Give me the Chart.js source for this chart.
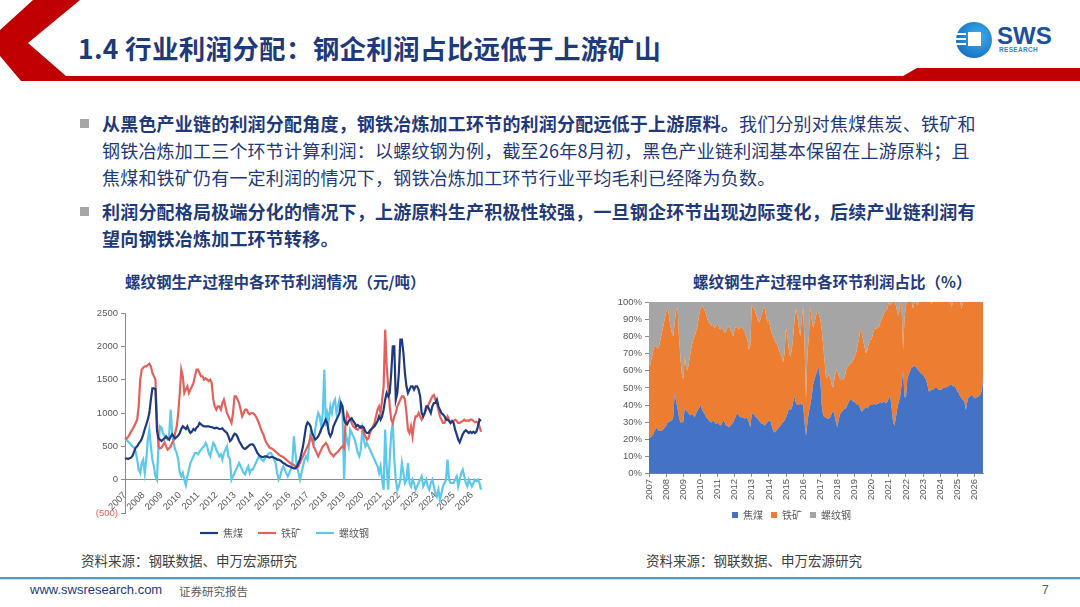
<!DOCTYPE html>
<html lang="zh-CN">
<head>
<meta charset="UTF-8">
<title>1.4 行业利润分配</title>
<script src="https://cdn.jsdelivr.net/npm/chart.js"></script>
<style>
  body { margin: 0; width: 1080px; height: 607px; overflow: hidden; background: #fff; position: relative;
         font-family: "Noto Sans CJK SC", "Noto Sans", sans-serif; }
  .abs { position: absolute; }
  .title { left: 78px; top: 28px; font-size: 26.5px; font-weight: 700; color: #1F3A7A; white-space: nowrap; letter-spacing: 0.3px; }
  .para { left: 80px; font-size: 18px; line-height: 27px; color: #1F3A7A; white-space: nowrap; letter-spacing: 0.2px; }
  .para .txt { margin-left: 22px; }
  .sq { position: absolute; left: 0; top: 9px; width: 9px; height: 9px; background: #A6A6A6; }
  .ctitle { font-size: 15.5px; font-weight: 700; color: #1F3B80; white-space: nowrap; }
  .src { font-size: 13.5px; color: #404040; white-space: nowrap; }
</style>
</head>
<body>
<svg class="abs" style="left:0;top:0" width="1080" height="90">
  <polygon points="33,0 80,0 28,43 66,76 1080,76 1080,81 21,81 0,56 0,30" fill="#C00000"/>
  <polygon points="903,76 917,68 1080,68 1080,76" fill="#C00000"/>
</svg>
<div class="abs title">1.4 行业利润分配：钢企利润占比远低于上游矿山</div>

<!-- logo -->
<div class="abs" style="left:956px;top:22px;width:36px;height:36px;border-radius:50%;background:radial-gradient(circle at 62% 40%, #3cb0ee, #0c5bb2);"></div>
<div class="abs" style="left:968px;top:32px;width:13px;height:14px;background:#fff;"></div>
<div class="abs" style="left:956px;top:33px;width:10px;height:2px;background:#fff;"></div>
<div class="abs" style="left:955px;top:38px;width:11px;height:2px;background:#fff;"></div>
<div class="abs" style="left:956px;top:43px;width:10px;height:2px;background:#fff;"></div>
<div class="abs" style="left:997px;top:22px;font:700 24px 'Liberation Sans',Arial,sans-serif;color:#1C4F9C;">SWS</div>
<div class="abs" style="left:999px;top:46px;font:700 6.5px 'Liberation Sans',Arial,sans-serif;color:#2F86D0;letter-spacing:0.3px;">RESEARCH</div>

<div class="abs para" style="top:110px;">
  <span class="sq"></span>
  <div class="txt"><b>从黑色产业链的利润分配角度，钢铁冶炼加工环节的利润分配远低于上游原料。</b>我们分别对焦煤焦炭、铁矿和<br>钢铁冶炼加工三个环节计算利润：以螺纹钢为例，截至26年8月初，黑色产业链利润基本保留在上游原料；且<br>焦煤和铁矿仍有一定利润的情况下，钢铁冶炼加工环节行业平均毛利已经降为负数。</div>
</div>
<div class="abs para" style="top:198px;">
  <span class="sq"></span>
  <div class="txt"><b>利润分配格局极端分化的情况下，上游原料生产积极性较强，一旦钢企环节出现边际变化，后续产业链利润有<br>望向钢铁冶炼加工环节转移。</b></div>
</div>

<div class="abs ctitle" style="left:125px;top:270px;">螺纹钢生产过程中各环节利润情况（元/吨）</div>
<div class="abs ctitle" style="left:693px;top:270px;">螺纹钢生产过程中各环节利润占比（%）</div>

<canvas id="c1" class="abs" style="left:88px;top:300px;" width="412" height="248"></canvas>
<canvas id="c2" class="abs" style="left:600px;top:290px;" width="395" height="240"></canvas>

<div class="abs src" style="left:81px;top:550px;">资料来源：钢联数据、申万宏源研究</div>
<div class="abs src" style="left:646px;top:550px;">资料来源：钢联数据、申万宏源研究</div>

<div class="abs" style="left:0;top:577px;width:1080px;height:2px;background:#4A9CC6;"></div>
<div class="abs" style="left:0;top:579px;width:1080px;height:1px;background:#D8D8D8;"></div>
<div class="abs" style="left:30px;top:582px;font:13px 'Liberation Sans',Arial,sans-serif;color:#1F3A7A;">www.swsresearch.com</div>
<div class="abs" style="left:179px;top:583px;font-size:11.5px;color:#595959;">证券研究报告</div>
<div class="abs" style="left:1042px;top:583px;font:12px 'Liberation Sans',Arial,sans-serif;color:#595959;">7</div>

<script>
// years on the axis; data is monthly, Jan 2007 to Jul 2026
const years = ['2007','2008','2009','2010','2011','2012','2013','2014','2015','2016',
               '2017','2018','2019','2020','2021','2022','2023','2024','2025','2026'];

// 焦煤 profit, yuan/ton
const jmProfit = [
  310,320,310,320,330,360,420,480,500,540,570,610,
  680,760,830,900,1000,1200,1370,1370,1360,750,620,600,
  580,600,620,650,620,600,640,680,650,620,640,660,
  700,760,800,780,760,800,740,700,720,760,740,780,
  800,850,830,810,800,800,800,800,790,790,780,770,
  780,770,760,760,770,740,720,700,650,580,600,650,
  690,680,640,580,540,500,470,460,480,500,520,530,
  530,500,450,400,370,350,340,340,350,350,340,330,
  340,340,330,320,300,300,290,270,250,240,220,210,
  200,190,180,170,170,200,250,300,400,500,650,800,
  860,840,800,700,650,600,620,650,700,760,800,850,
  900,850,700,650,700,800,850,900,950,1000,1150,1100,
  900,850,830,880,900,920,880,850,800,820,800,780,
  800,780,720,700,700,740,760,780,800,840,880,950,
  900,950,1050,1200,1300,1250,1300,1600,2000,2000,1200,1300,
  1600,2100,2100,1900,1600,1400,1300,1350,1400,1400,1350,1400,
  1400,1350,1250,1000,950,1000,1100,1100,1050,1000,1100,1150,
  1150,1200,1100,1050,1000,980,950,900,900,880,850,880,
  850,750,680,600,560,620,680,720,740,720,700,720,
  700,720,700,720,800,900,880
];

// 铁矿 profit, yuan/ton
const tkProfit = [
  600,620,640,680,720,760,800,850,900,1100,1500,1650,
  1680,1700,1700,1720,1740,1700,1600,1550,1500,900,500,470,
  480,520,560,500,450,470,500,550,600,700,800,1000,
  1300,1650,1550,1300,1350,1400,1300,1350,1400,1450,1550,1650,
  1650,1600,1550,1550,1500,1520,1500,1480,1500,1450,1200,1100,
  1050,1100,1100,1050,1150,1200,1100,1000,950,900,850,1000,
  1250,1250,1200,1150,1050,950,1000,1050,1050,1000,980,1000,
  1000,980,950,900,850,780,720,680,600,550,520,480,
  470,460,440,420,400,380,360,350,340,320,300,280,
  260,240,230,220,200,180,200,250,300,350,400,450,
  500,550,650,600,500,450,400,350,400,450,500,520,
  550,520,450,400,380,350,380,400,420,450,480,500,
  470,850,1000,950,900,850,800,780,760,750,780,800,
  780,700,650,600,620,700,750,800,850,950,1050,1100,
  1000,1200,1400,2250,1700,1400,1100,900,850,950,1000,1100,
  1150,1200,1250,1250,1200,1000,750,700,800,650,850,950,
  950,1000,950,900,950,1000,1050,1100,1150,1200,1250,1270,
  1200,1150,1050,950,900,850,850,900,950,900,850,870,
  880,900,880,850,850,870,880,900,880,890,880,900,
  900,880,860,870,850,800,720
];

// 螺纹钢 profit, yuan/ton
const lwgProfit = [
  600,600,570,550,520,500,480,420,300,150,100,250,
  300,100,300,600,750,500,300,200,50,0,500,800,
  780,700,650,620,600,650,1050,700,550,450,400,300,
  100,50,100,0,-80,50,150,250,300,350,400,400,
  380,420,450,480,500,550,500,400,350,450,550,520,
  450,400,350,380,300,400,450,500,350,300,0,50,
  100,150,200,250,200,150,100,80,150,200,100,150,
  150,200,250,300,350,320,300,280,320,350,380,400,
  400,350,300,250,100,0,50,150,200,150,100,50,
  100,150,250,650,400,200,100,0,100,200,300,350,
  300,500,700,600,550,750,900,1000,950,800,1000,1650,
  800,1000,900,1100,1000,1150,1200,1000,1100,1200,1050,1000,
  0,700,600,500,750,700,650,600,500,400,350,450,
  750,600,500,550,500,450,400,350,300,250,200,100,
  200,0,-150,750,200,-150,300,700,850,300,0,-150,
  -100,0,250,100,-50,0,250,-50,-100,0,-50,-150,
  -100,-50,0,50,-100,-50,0,-100,-150,-50,0,-100,
  -200,-250,-150,-300,-200,-100,-50,0,300,0,-50,-50,
  -50,0,50,-100,0,100,150,50,-50,-100,0,-50,
  -100,-50,0,-20,0,-50,-150
];

// shares of total profit, %
const shareJm = [
  21,21,22,23,25,27,26,25,25,25,26,27,
  28,30,30,31,31,33,47,42,38,33,30,30,
  30,38,37,36,35,34,35,34,33,35,37,38,
  40,38,36,35,33,32,31,30,30,31,30,29,
  30,29,28,29,31,30,28,28,27,28,29,30,
  32,34,35,34,33,33,33,32,33,32,30,27,
  35,35,34,33,32,31,30,29,29,28,29,30,
  31,31,28,25,24,25,26,27,28,29,30,31,
  33,35,38,37,38,42,45,41,40,40,41,40,
  40,30,22,30,36,40,45,52,55,58,60,62,
  55,40,34,33,33,32,32,33,35,37,34,30,
  27,32,35,36,37,38,38,40,42,43,43,42,
  42,41,40,40,38,36,37,38,39,38,39,40,
  40,40,41,40,41,41,42,41,42,42,41,42,
  44,45,38,30,28,33,38,42,45,52,60,45,
  44,55,58,60,62,62,63,62,61,60,59,58,
  58,56,55,52,48,48,49,49,50,50,50,49,
  49,49,50,50,50,51,51,52,52,51,51,50,
  48,47,45,44,43,42,37,42,45,45,46,45,
  44,44,45,45,46,48,54
];

const shareTk = [
  39,43,46,49,50,47,47,49,53,57,60,63,
  66,67,62,55,51,47,41,53,59,47,38,28,
  25,30,25,24,30,36,40,44,47,48,49,54,
  56,60,61,60,60,58,57,57,56,55,55,57,
  58,56,56,56,53,52,55,57,59,56,53,50,
  52,52,50,50,52,53,51,51,47,46,42,48,
  63,62,61,60,58,57,60,64,67,69,63,58,
  59,54,54,55,54,51,49,45,42,39,35,39,
  52,45,34,31,34,38,45,55,52,45,39,50,
  57,45,21,40,44,57,45,33,33,34,35,31,
  35,44,41,33,23,24,26,23,17,13,22,30,
  33,25,20,19,18,18,22,22,21,21,22,24,
  26,29,34,38,46,46,41,36,31,34,37,38,
  38,42,44,44,45,44,46,49,50,52,54,54,
  56,53,61,70,72,65,56,50,55,44,12,45,
  54,45,42,40,38,34,37,38,37,40,41,42,
  42,44,45,48,52,52,50,51,50,50,50,51,
  51,51,50,50,50,49,49,48,45,49,49,50,
  52,53,55,52,57,58,63,58,55,55,54,55,
  56,56,55,55,54,52,46
];

const shareLwg = [
  40,36,32,28,25,26,27,26,22,18,14,10,
  6,3,8,14,18,20,12,5,3,20,32,42,
  45,32,38,40,35,30,25,22,20,17,14,8,
  4,2,3,5,7,10,12,13,14,14,15,14,
  12,15,16,15,16,18,17,15,14,16,18,20,
  16,14,15,16,15,14,16,17,20,22,28,25,
  2,3,5,7,10,12,10,7,4,3,8,12,
  10,15,18,20,22,24,25,28,30,32,35,30,
  15,20,28,32,28,20,10,4,8,15,20,10,
  3,25,57,30,20,3,10,15,12,8,5,7,
  10,16,25,34,44,44,42,44,48,50,44,40,
  40,43,45,45,45,44,40,38,37,36,35,34,
  32,30,26,22,16,18,22,26,30,28,24,22,
  22,18,15,16,14,15,12,10,8,6,5,4,
  0,2,1,0,0,2,6,8,0,4,28,10,
  2,0,0,0,0,4,0,0,2,0,0,0,
  0,0,0,0,0,0,1,0,0,0,0,0,
  0,0,0,0,0,0,0,0,3,0,0,0,
  0,0,0,4,0,0,0,0,0,0,0,0,
  0,0,0,0,0,0,0
];

const months = [];
years.forEach(y => {
  for (let m = 1; m <= 12; m++) {
    if (months.length < jmProfit.length) months.push(y + '-' + String(m).padStart(2, '0'));
  }
});

const numFont = { family: "'Liberation Sans', Arial, sans-serif", size: 9.5 };
const cjkFont = { family: "'Noto Sans CJK SC', sans-serif", size: 10 };
const axisGray = '#8C8C8C';
const labelGray = '#595959';
const yearTick = (v, i) => (i % 12 === 0 ? months[i].slice(0, 4) : null);

Chart.defaults.animation = false;

new Chart(document.getElementById('c1'), {
  type: 'line',
  data: {
    labels: months,
    datasets: [
      { label: '焦煤', data: jmProfit, borderColor: '#1F3B80', borderWidth: 2.2, pointRadius: 0 },
      { label: '铁矿', data: tkProfit, borderColor: '#E5605B', borderWidth: 2.2, pointRadius: 0 },
      { label: '螺纹钢', data: lwgProfit, borderColor: '#5CC8EB', borderWidth: 2.2, pointRadius: 0 }
    ]
  },
  options: {
    responsive: false,
    layout: { padding: { top: 13, right: 19 } },
    plugins: {
      tooltip: { enabled: false },
      legend: {
        position: 'bottom',
        labels: { usePointStyle: true, pointStyle: 'line', pointStyleWidth: 18, padding: 15,
                  color: labelGray, font: cjkFont }
      }
    },
    scales: {
      x: {
        position: { y: 0 },
        grid: { display: false },
        border: { color: axisGray },
        ticks: { autoSkip: false, minRotation: 45, maxRotation: 45, padding: 2,
                 color: labelGray, font: numFont, callback: yearTick }
      },
      y: {
        min: -500, max: 2500,
        grid: { drawOnChartArea: false, tickLength: 4, color: axisGray },
        border: { color: axisGray },
        ticks: { stepSize: 500, font: numFont,
                 color: c => (c.tick.value < 0 ? '#E5605B' : labelGray),
                 callback: v => (v < 0 ? '(' + (-v) + ')' : v) },
        afterFit: s => { s.width = 37; }
      }
    }
  }
});

new Chart(document.getElementById('c2'), {
  type: 'line',
  data: {
    labels: months,
    datasets: [
      { label: '焦煤', data: shareJm, backgroundColor: '#4472C4', borderColor: 'rgba(0,0,0,0)', borderWidth: 0, pointRadius: 0, fill: 'origin' },
      { label: '铁矿', data: shareTk, backgroundColor: '#ED7D31', borderColor: 'rgba(0,0,0,0)', borderWidth: 0, pointRadius: 0, fill: '-1' },
      { label: '螺纹钢', data: shareLwg, backgroundColor: '#A5A5A5', borderColor: 'rgba(0,0,0,0)', borderWidth: 0, pointRadius: 0, fill: '-1' }
    ]
  },
  options: {
    responsive: false,
    layout: { padding: { top: 12, right: 12 } },
    plugins: {
      tooltip: { enabled: false },
      legend: {
        position: 'bottom',
        labels: { boxWidth: 6, boxHeight: 6, padding: 8, color: labelGray, font: cjkFont }
      }
    },
    scales: {
      x: {
        grid: { drawOnChartArea: false, tickLength: 3, color: axisGray },
        border: { color: axisGray },
        ticks: { autoSkip: false, minRotation: 90, maxRotation: 90, padding: 2,
                 color: labelGray, font: numFont, callback: yearTick }
      },
      y: {
        stacked: true, min: 0, max: 100,
        grid: { drawOnChartArea: false, tickLength: 4, color: axisGray },
        border: { color: axisGray },
        ticks: { stepSize: 10, color: labelGray, font: numFont, callback: v => v + '%' },
        afterFit: s => { s.width = 49; }
      }
    }
  }
});
</script>
</body>
</html>
